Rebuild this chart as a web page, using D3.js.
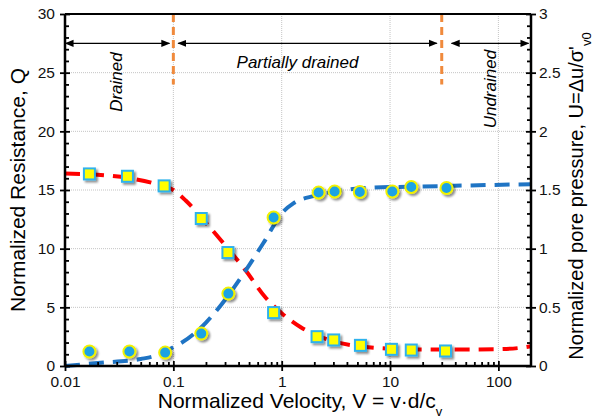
<!DOCTYPE html>
<html>
<head>
<meta charset="utf-8">
<script src="https://cdn.jsdelivr.net/npm/d3@7"></script>
<style>
  body { margin: 0; background: #fff; }
  text { font-family: Arial, "Liberation Sans", sans-serif; }
</style>
</head>
<body>
<div id="chart"></div>
<script>
// measured points, Q (squares) and U (circles)
const qVel = [0.0168, 0.0377, 0.0822, 0.181, 0.319, 0.842, 2.12, 3.02, 5.33, 10.3, 15.7, 32.5];
const qVal = [16.37, 16.17, 15.35, 12.57, 9.67, 4.55, 2.5, 2.22, 1.76, 1.42, 1.36, 1.28];
const uVel = [0.0168, 0.0393, 0.084, 0.181, 0.322, 0.842, 2.19, 3.08, 5.26, 10.5, 15.7, 33.2];
const uVal = [0.123, 0.123, 0.114, 0.276, 0.617, 1.265, 1.478, 1.487, 1.483, 1.487, 1.526, 1.517];

// fitted curves
const qFitVel = [0.01, 0.02, 0.04, 0.07, 0.1, 0.13, 0.2, 0.3, 0.46, 0.7, 1.0, 1.5, 2, 3, 5, 10, 20, 50, 100, 160, 200];
const qFitVal = [16.4, 16.3, 16.0, 15.5, 15.0, 14.1, 12.2, 10.3, 8.2, 5.9, 4.5, 3.3, 2.7, 2.1, 1.7, 1.47, 1.4, 1.4, 1.43, 1.55, 1.68];
const uFitVel = [0.01, 0.02, 0.05, 0.07, 0.1, 0.12, 0.2, 0.27, 0.41, 0.68, 1.0, 1.3, 2, 3.2, 7, 20, 200];
const uFitVal = [0.0, 0.025, 0.06, 0.09, 0.16, 0.2, 0.37, 0.51, 0.74, 1.05, 1.3, 1.39, 1.45, 1.49, 1.52, 1.53, 1.55];

const xTicks = [0.01, 0.1, 1, 10, 100];
const xTickLabels = ["0.01", "0.1", "1", "10", "100"];
const qTicks = [0, 5, 10, 15, 20, 25, 30];
const uTicks = [0, 0.5, 1, 1.5, 2, 2.5, 3];
const uTickLabels = ["0", "0.5", "1", "1.5", "2", "2.5", "3"];

// drainage zones
const zoneBounds = [0.1, 30];
const zones = [
  {name: "Drained", from: 0.0101, to: 0.092},
  {name: "Partially drained", from: 0.111, to: 27},
  {name: "Undrained", from: 37, to: 190}
];

let margin = {top: 14, left: 65, right: 62, bottom: 52},
    width = 593 - margin.left - margin.right,
    height = 418 - margin.top - margin.bottom;

let svg = d3.select("#chart").append("svg")
  .attr("width", 593).attr("height", 418);

let defs = svg.append("defs");
let f = defs.append("filter").attr("id", "shadow")
  .attr("x", "-50%").attr("y", "-50%").attr("width", "200%").attr("height", "200%");
f.append("feDropShadow").attr("dx", 2).attr("dy", 2).attr("stdDeviation", 1.3)
  .attr("flood-color", "#000").attr("flood-opacity", 0.45);

let ah = defs.append("marker").attr("id", "arrow")
  .attr("viewBox", "0 0 10 10").attr("refX", 9).attr("refY", 5)
  .attr("markerWidth", 9).attr("markerHeight", 9).attr("markerUnits", "userSpaceOnUse")
  .attr("orient", "auto-start-reverse");
ah.append("path").attr("d", "M0,1 L10,5 L0,9 Z").attr("fill", "#000");

let g = svg.append("g").attr("transform", "translate(" + margin.left + "," + margin.top + ")");

let x = d3.scaleLog().domain([0.01, 200]).range([0, width]);
let yQ = d3.scaleLinear().domain([0, 30]).range([height, 0]);
let yU = d3.scaleLinear().domain([0, 3]).range([height, 0]);

// grid
g.append("g").selectAll("line").data(xTicks.slice(1)).enter().append("line")
  .attr("x1", d => x(d)).attr("x2", d => x(d)).attr("y1", 0).attr("y2", height)
  .attr("stroke", "#c4c4c4").attr("stroke-width", 1).attr("stroke-dasharray", "1,1");
g.append("g").selectAll("line").data(qTicks.slice(1, -1)).enter().append("line")
  .attr("x1", 0).attr("x2", width).attr("y1", d => yQ(d)).attr("y2", d => yQ(d))
  .attr("stroke", "#c4c4c4").attr("stroke-width", 1).attr("stroke-dasharray", "1,1");

// zone boundaries
g.selectAll(".bound").data(zoneBounds).enter().append("line")
  .attr("class", "bound")
  .attr("x1", d => x(d)).attr("x2", d => x(d)).attr("y1", 0).attr("y2", yQ(24))
  .attr("stroke", "#f08a3c").attr("stroke-width", 3).attr("stroke-dasharray", "8,5");

// zone arrows and names
zones.forEach(function(z) {
  g.append("line")
    .attr("x1", x(z.from)).attr("x2", x(z.to))
    .attr("y1", yQ(27.5)).attr("y2", yQ(27.5))
    .attr("stroke", "#000").attr("stroke-width", 1.3)
    .attr("marker-start", "url(#arrow)").attr("marker-end", "url(#arrow)");
});
let zoneFont = "17px";
g.append("text")
  .attr("transform", "translate(" + (x(0.031) + 4) + "," + yQ(24.2) + ") rotate(-90)")
  .attr("text-anchor", "middle").style("font-style", "italic").style("font-size", zoneFont)
  .text(zones[0].name);
g.append("text")
  .attr("x", x(1.4)).attr("y", yQ(25.4))
  .attr("text-anchor", "middle").style("font-style", "italic").style("font-size", zoneFont)
  .text(zones[1].name);
g.append("text")
  .attr("transform", "translate(" + (x(80) + 8) + "," + yQ(23.6) + ") rotate(-90)")
  .attr("text-anchor", "middle").style("font-style", "italic").style("font-size", zoneFont)
  .text(zones[2].name);

// fitted curves
let qLine = d3.line().curve(d3.curveMonotoneX).x(d => x(d[0])).y(d => yQ(d[1]));
let uLine = d3.line().curve(d3.curveMonotoneX).x(d => x(d[0])).y(d => yU(d[1]));

g.append("path").datum(qFitVel.map((v, i) => [v, qFitVal[i]]))
  .attr("d", qLine).attr("fill", "none").attr("stroke", "#ff0000")
  .attr("stroke-width", 4).attr("stroke-dasharray", "15,9");
g.append("path").datum(uFitVel.map((v, i) => [v, uFitVal[i]]))
  .attr("d", uLine).attr("fill", "none").attr("stroke", "#1f74c4")
  .attr("stroke-width", 4).attr("stroke-dasharray", "15,9");

// markers
g.append("g").selectAll("rect").data(qVel.map((v, i) => [v, qVal[i]])).enter().append("rect")
  .attr("x", d => x(d[0]) - 5.5).attr("y", d => yQ(d[1]) - 5.5)
  .attr("width", 11).attr("height", 11)
  .attr("fill", "#ffff00").attr("stroke", "#2eb2ec").attr("stroke-width", 2)
  .attr("filter", "url(#shadow)");
g.append("g").selectAll("circle").data(uVel.map((v, i) => [v, uVal[i]])).enter().append("circle")
  .attr("cx", d => x(d[0])).attr("cy", d => yU(d[1])).attr("r", 6)
  .attr("fill", "#1ba3e4").attr("stroke", "#f2f200").attr("stroke-width", 2)
  .attr("filter", "url(#shadow)");

// frame
g.append("line").attr("x1", 0).attr("x2", width).attr("y1", 0).attr("y2", 0)
  .attr("stroke", "#000").attr("stroke-width", 2);

// axes
let minorX = [];
for (let e = -2; e <= 2; e++) for (let k = 2; k <= 9; k++) {
  let v = k * Math.pow(10, e);
  if (v < 200) minorX.push(v);
}
let minorQ = d3.range(0, 31).filter(d => d % 5 !== 0);
let minorU = d3.range(0, 31).filter(d => d % 5 !== 0).map(d => d / 10);

let xAxis = g.append("g").attr("transform", "translate(0," + height + ")");
xAxis.append("g").call(d3.axisBottom(x).tickValues(minorX).tickSize(-4).tickFormat(""))
  .call(s => s.select(".domain").remove());
xAxis.append("g").attr("transform", "translate(0,-5)")
  .call(d3.axisBottom(x).tickValues(xTicks).tickSize(10).tickFormat((d, i) => xTickLabels[i]))
  .call(s => s.select(".domain").remove())
  .call(s => s.selectAll("text").attr("dy", "0.85em"));
xAxis.append("line").attr("x1", 0).attr("x2", width).attr("stroke", "#000").attr("stroke-width", 2.5);

let lAxis = g.append("g");
lAxis.append("g").call(d3.axisLeft(yQ).tickValues(minorQ).tickSize(-4).tickFormat(""))
  .call(s => s.select(".domain").remove());
lAxis.append("g").attr("transform", "translate(5,0)")
  .call(d3.axisLeft(yQ).tickValues(qTicks).tickSize(10))
  .call(s => s.select(".domain").remove())
  .call(s => s.selectAll("text").attr("x", -15));
lAxis.append("line").attr("y1", 0).attr("y2", height).attr("stroke", "#000").attr("stroke-width", 2.5);

let rAxis = g.append("g").attr("transform", "translate(" + width + ",0)");
rAxis.append("g").call(d3.axisRight(yU).tickValues(minorU).tickSize(-4).tickFormat(""))
  .call(s => s.select(".domain").remove());
rAxis.append("g").attr("transform", "translate(-5,0)")
  .call(d3.axisRight(yU).tickValues(uTicks).tickSize(10).tickFormat((d, i) => uTickLabels[i]))
  .call(s => s.select(".domain").remove())
  .call(s => s.selectAll("text").attr("x", 13));
rAxis.append("line").attr("y1", 0).attr("y2", height).attr("stroke", "#000").attr("stroke-width", 2.5);

svg.selectAll(".tick line").attr("stroke", "#000").attr("stroke-width", 1.8);
svg.selectAll(".tick text").style("font-size", "15.5px").attr("fill", "#111");

// axis titles
svg.append("text")
  .attr("x", margin.left + width / 2 + 2).attr("y", 408)
  .attr("text-anchor", "middle").style("font-size", "21px")
  .html('Normalized Velocity, V = v·d/c<tspan baseline-shift="sub" font-size="13px">v</tspan>');
svg.append("text")
  .attr("transform", "translate(25," + (margin.top + height / 2) + ") rotate(-90)")
  .attr("text-anchor", "middle").style("font-size", "21px")
  .text("Normalized Resistance, Q");
svg.append("text")
  .attr("transform", "translate(583," + (margin.top + height / 2 + 6) + ") rotate(-90)")
  .attr("text-anchor", "middle").style("font-size", "20px")
  .html('Normalized pore pressure, U=Δu/σ\'<tspan baseline-shift="sub" font-size="13px">v0</tspan>');
</script>
</body>
</html>
